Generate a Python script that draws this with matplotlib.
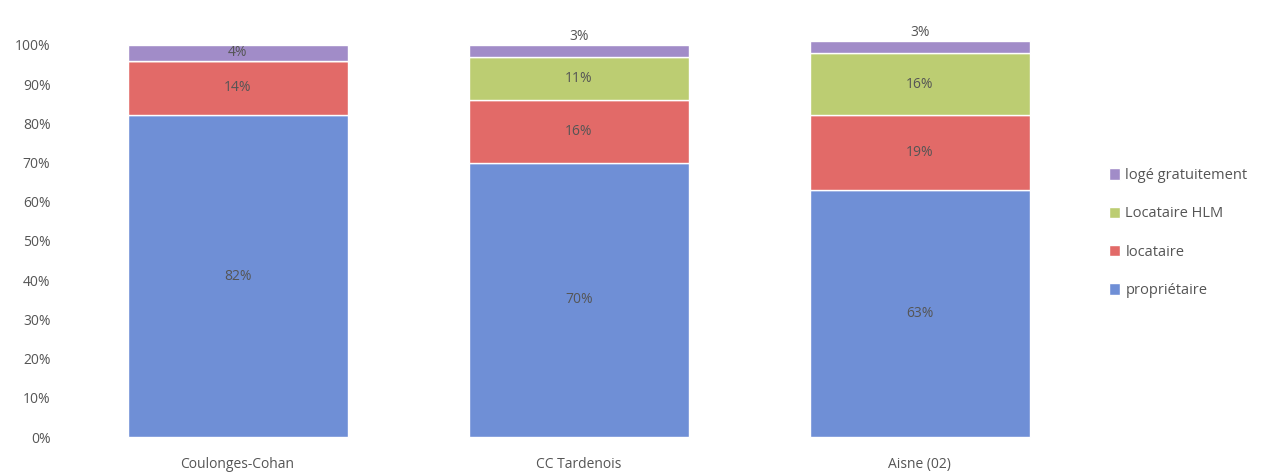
import matplotlib
matplotlib.use("Agg")
import matplotlib.pyplot as plt
from matplotlib.ticker import PercentFormatter
import numpy as np

categories = ["Coulonges-Cohan", "CC Tardenois", "Aisne (02)"]
series_names = ["propriétaire", "locataire", "Locataire HLM", "logé gratuitement"]
proprietaire = [82, 70, 63]
locataire = [14, 16, 19]
locataire_hlm = [0, 11, 16]
loge_gratuitement = [4, 3, 3]
yticks = [0, 10, 20, 30, 40, 50, 60, 70, 80, 90, 100]

series = [proprietaire, locataire, locataire_hlm, loge_gratuitement]
colors = ["#6f8fd6", "#e26a68", "#bccd72", "#a18cc8"]
text_color = "#555555"

plt.rcParams["font.family"] = ["Open Sans", "DejaVu Sans"]

fig = plt.figure(figsize=(12.65, 4.72), dpi=100)
ax = fig.add_axes([0.053, 0.074, 0.809, 0.831])

x = np.arange(len(categories))
bottom = np.zeros(len(categories))
handles = []
for name, vals, col in zip(series_names, series, colors):
    vals = np.array(vals, dtype=float)
    bars = ax.bar(x, vals, 0.645, bottom=bottom, color=col, edgecolor="white",
                  linewidth=1, label=name, clip_on=False)
    handles.append(bars)
    for xi, v, b in zip(x, vals, bottom):
        if v <= 0:
            continue
        if v < 4:
            ax.text(xi, b + v + 0.3, f"{int(v)}%", ha="center", va="bottom",
                    fontsize=10, color=text_color)
        else:
            ax.text(xi, b + v / 2, f"{int(v)}%", ha="center", va="center",
                    fontsize=10, color=text_color)
    bottom += vals

ax.set_xlim(-0.5, 2.5)
ax.set_ylim(0, 100)
ax.set_yticks(yticks)
ax.yaxis.set_major_formatter(PercentFormatter(decimals=0))
ax.set_xticks(x)
ax.set_xticklabels(categories)
ax.tick_params(axis="both", length=0, labelsize=10, labelcolor=text_color)
ax.tick_params(axis="x", pad=14)
ax.tick_params(axis="y", pad=12)
for s in ax.spines.values():
    s.set_visible(False)

leg = ax.legend(handles[::-1], series_names[::-1], loc="center left",
                bbox_to_anchor=(1.005, 0.52), frameon=False, fontsize=10.5,
                handlelength=0.8, handleheight=0.8, handletextpad=0.35,
                labelspacing=1.6, labelcolor=text_color)

fig.savefig("out.png", dpi=100)
